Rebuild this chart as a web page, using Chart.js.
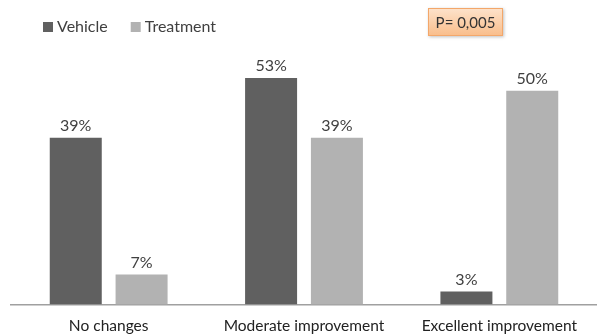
<!DOCTYPE html>
<html>
<head>
<meta charset="utf-8">
<script src="https://cdn.jsdelivr.net/npm/chart.js@4/dist/chart.umd.min.js"></script>
<style>
  html, body { margin: 0; padding: 0; background: #fff; }
  #wrap { position: relative; width: 597px; height: 335px; }
</style>
</head>
<body>
<div id="wrap"><canvas id="c" width="597" height="335"></canvas></div>
<script>
const categories = ["No changes", "Moderate improvement", "Excellent improvement"];
const vehicle = [39, 53, 3];
const treatment = [7, 39, 50];
const seriesNames = ["Vehicle", "Treatment"];
const seriesColors = ["#606060", "#b2b2b2"];
const pValueText = "P= 0,005";

const FONT = "Lato, 'Open Sans', sans-serif";

// Percent labels above each bar
const valueLabels = {
  id: "valueLabels",
  afterDatasetsDraw(chart) {
    const ctx = chart.ctx;
    ctx.save();
    ctx.font = "16px " + FONT;
    ctx.fillStyle = "#404040";
    ctx.textAlign = "center";
    ctx.textBaseline = "bottom";
    chart.data.datasets.forEach((ds, i) => {
      chart.getDatasetMeta(i).data.forEach((bar, j) => {
        ctx.fillText(ds.data[j] + "%", bar.x, bar.y - 4);
      });
    });
    ctx.restore();
  }
};

// Legend in the top-left corner and the p-value box
const headerDecor = {
  id: "headerDecor",
  afterDraw(chart) {
    const ctx = chart.ctx;
    ctx.save();
    ctx.font = "16px " + FONT;
    ctx.textBaseline = "middle";
    let x = 43;
    const y = 27;
    chart.data.datasets.forEach((ds) => {
      ctx.fillStyle = ds.backgroundColor;
      ctx.fillRect(x, y - 5, 10, 10);
      ctx.fillStyle = "#404040";
      ctx.textAlign = "left";
      ctx.fillText(ds.label, x + 14, y);
      x += 14 + ctx.measureText(ds.label).width + 23;
    });

    // p-value box
    const bx = 428, by = 8, bw = 75, bh = 28;
    const g = ctx.createLinearGradient(0, by, 0, by + bh);
    g.addColorStop(0, "#fde3cc");
    g.addColorStop(1, "#f9bd8a");
    ctx.shadowColor = "rgba(0,0,0,0.25)";
    ctx.shadowBlur = 3;
    ctx.shadowOffsetX = 1;
    ctx.shadowOffsetY = 1;
    ctx.fillStyle = g;
    ctx.fillRect(bx, by, bw, bh);
    ctx.shadowColor = "transparent";
    ctx.strokeStyle = "#f3a76a";
    ctx.lineWidth = 1;
    ctx.strokeRect(bx + 0.5, by + 0.5, bw - 1, bh - 1);
    ctx.font = "15px " + FONT;
    ctx.fillStyle = "#333333";
    ctx.textAlign = "center";
    ctx.fillText(pValueText, bx + bw / 2, by + bh / 2 + 1);
    ctx.restore();
  }
};

new Chart(document.getElementById("c"), {
  type: "bar",
  data: {
    labels: categories,
    datasets: [
      { label: seriesNames[0], data: vehicle, backgroundColor: seriesColors[0] },
      { label: seriesNames[1], data: treatment, backgroundColor: seriesColors[1] }
    ]
  },
  options: {
    responsive: false,
    animation: false,
    layout: { padding: { left: 11, right: -3, top: 48, bottom: -12 } },
    datasets: {
      bar: { categoryPercentage: 0.674, barPercentage: 0.79 }
    },
    plugins: {
      legend: { display: false },
      tooltip: { enabled: false }
    },
    scales: {
      x: {
        grid: { display: false, drawTicks: false },
        border: { display: true, color: "#a0a0a0", width: 1.5 },
        ticks: { color: "#222222", font: { size: 15.5, family: FONT }, padding: 12 }
      },
      y: {
        min: 0,
        max: 60,
        display: false
      }
    }
  },
  plugins: [valueLabels, headerDecor]
});
</script>
</body>
</html>
